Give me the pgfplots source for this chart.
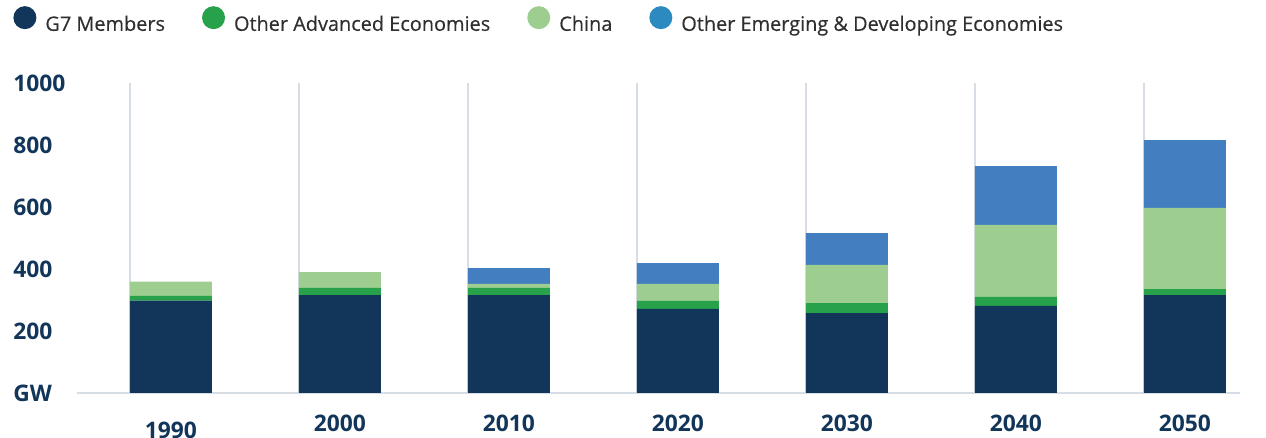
\documentclass[border=0pt]{standalone}
\usepackage{pgfplots}
\pgfplotsset{compat=1.18}
\usepackage{fontspec}
\setmainfont{Open Sans}
\newfontfamily\legfont{Open Sans}[FakeBold=0.4]
\definecolor{gseven}{HTML}{12365A}
\definecolor{oadv}{HTML}{27A14A}
\definecolor{china}{HTML}{9DCE8F}
\definecolor{emerg}{HTML}{437EC0}
\definecolor{emergleg}{HTML}{2D8AC0}
\definecolor{txt}{HTML}{12355A}
\definecolor{legtxt}{HTML}{2F2F2F}
\definecolor{gridgray}{HTML}{D6DDE5}
\begin{document}
\begin{tikzpicture}
\useasboundingbox (-38.5pt,-22.5pt) rectangle (594.5pt,196.5pt);
\begin{axis}[
  scale only axis, width=581.5pt, height=155pt,
  at={(0pt,0pt)}, anchor=south west,
  ybar stacked, bar width=41pt,
  xmin=-0.556, xmax=6.326, ymin=0, ymax=1000,
  axis x line*=bottom, axis y line*=left,
  y axis line style={draw=none},
  x axis line style={draw=gridgray, line width=1pt},
  major tick length=0pt,
  xtick={0,...,6},
  xticklabels={\raisebox{-3.5pt}[\height][0pt]{1990},2000,2010,2020,2030,2040,2050},
  ytick={0,200,400,600,800,1000},
  yticklabels={GW,200,400,600,800,1000},
  ticklabel style={font=\fontsize{11.4}{12}\selectfont\bfseries, text=txt, inner sep=0pt},
  xticklabel style={anchor=north, yshift=-10.6pt},
  yticklabel style={anchor=west, xshift=-32pt},
  extra x ticks={-0.243,0.757,1.757,2.757,3.757,4.757,5.757},
  extra x tick labels={},
  extra x tick style={grid=major, major grid style={draw=gridgray, line width=0.7pt}},
  legend columns=4,
  legend style={draw=none, fill=none, inner sep=0pt,
    at={(axis description cs:0,1)}, anchor=west, xshift=-32pt, yshift=31.5pt,
    font=\legfont\fontsize{9.95}{12}\selectfont, text=legtxt,
    nodes={inner sep=0pt},
    /tikz/every odd column/.style={column sep=4.5pt},
    /tikz/every even column/.style={column sep=18.5pt}},
]
\addplot[fill=gseven, draw=none, legend image code/.code={\fill[gseven] (5.75pt,3.55pt) circle (5.75pt);}]
  coordinates {(0,298) (1,316) (2,316) (3,271) (4,258) (5,281) (6,316)};
\addlegendentry{G7 Members}
\addplot[fill=oadv, draw=none, legend image code/.code={\fill[oadv] (5.75pt,3.55pt) circle (5.75pt);}]
  coordinates {(0,15) (1,23) (2,23) (3,26) (4,32) (5,29) (6,19)};
\addlegendentry{Other Advanced Economies}
\addplot[fill=china, draw=none, legend image code/.code={\fill[china] (5.75pt,3.55pt) circle (5.75pt);}]
  coordinates {(0,46) (1,51) (2,13) (3,55) (4,123) (5,232) (6,262)};
\addlegendentry{China}
\addplot[fill=emerg, draw=none, legend image code/.code={\fill[emergleg] (5.75pt,3.55pt) circle (5.75pt);}]
  coordinates {(0,0) (1,0) (2,51) (3,67) (4,103) (5,190) (6,219)};
\addlegendentry{Other Emerging \& Developing Economies}
\end{axis}
\end{tikzpicture}
\end{document}
